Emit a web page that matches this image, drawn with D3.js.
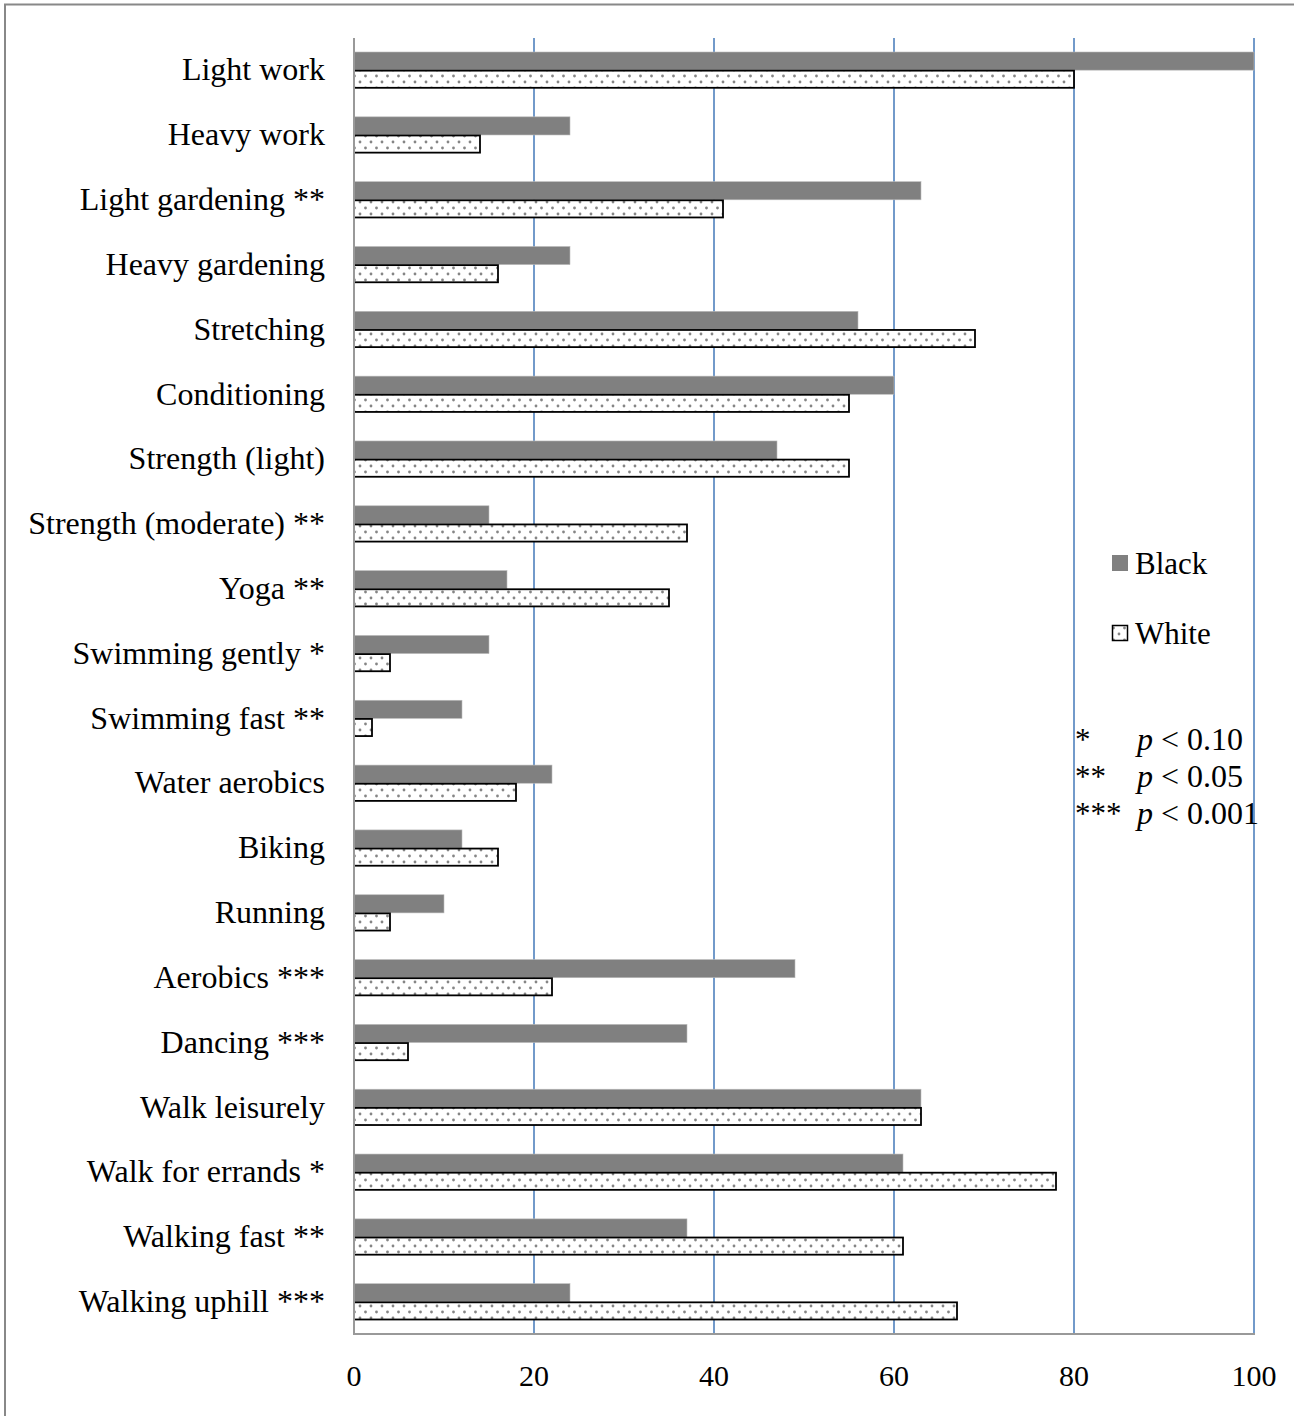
<!DOCTYPE html>
<html><head><meta charset="utf-8">
<script src="https://cdn.jsdelivr.net/npm/d3@7"></script>
<style>body{margin:0;background:#fff}svg{display:block}</style>
</head><body>
<script>
const categories = ["Light work","Heavy work","Light gardening **","Heavy gardening","Stretching","Conditioning","Strength (light)","Strength (moderate) **","Yoga **","Swimming gently *","Swimming fast **","Water aerobics","Biking","Running","Aerobics ***","Dancing ***","Walk leisurely","Walk for errands *","Walking fast **","Walking uphill ***"];
const black = [100,24,63,24,56,60,47,15,17,15,12,22,12,10,49,37,63,61,37,24];
const white = [80,14,41,16,69,55,55,37,35,4,2,18,16,4,22,6,63,78,61,67];
const xTicks = [0,20,40,60,80,100];
const seriesNames = ["Black","White"];
const sigMarks = ["*","**","***"];
const sigLabels = ["0.10","0.05","0.001"];

const W = 1294, H = 1416;
const svg = d3.select("body").append("svg").attr("width", W).attr("height", H);
const font = "'Liberation Serif','Times New Roman',serif";

const defs = svg.append("defs");
const pat = defs.append("pattern").attr("id","dots").attr("patternUnits","userSpaceOnUse")
  .attr("width",11).attr("height",12).attr("y",1);
pat.append("rect").attr("width",11).attr("height",12).attr("fill","#fff");
pat.append("circle").attr("cx",2.5).attr("cy",3).attr("r",1.4).attr("fill","#858585");
pat.append("circle").attr("cx",8).attr("cy",9).attr("r",1.4).attr("fill","#858585");

svg.append("rect").attr("x",5).attr("y",4.5).attr("width",W+20).attr("height",H+20)
  .attr("fill","none").attr("stroke","#888").attr("stroke-width",2);

const x = d3.scaleLinear().domain([0,100]).range([354,1254]);
const y = d3.scaleBand().domain(categories).range([38,1334]).paddingInner(0.44).paddingOuter(0.216);

// gridlines
svg.append("g").selectAll("line").data(xTicks.filter(d=>d>0)).join("line")
  .attr("x1",d=>x(d)).attr("x2",d=>x(d)).attr("y1",38).attr("y2",1334)
  .attr("stroke","#4f81bd").attr("stroke-width",1.6);

const bh = y.bandwidth()/2;
svg.append("g").selectAll("rect").data(categories).join("rect")
  .attr("x",x(0)).attr("y",d=>y(d)).attr("width",(d,i)=>x(black[i])-x(0)).attr("height",bh)
  .attr("fill","#808080").attr("stroke","#bbb").attr("stroke-width",0.6);
svg.append("g").selectAll("rect").data(categories).join("rect")
  .attr("x",x(0)).attr("y",d=>y(d)+bh+0.5).attr("width",(d,i)=>x(white[i])-x(0)).attr("height",bh-1)
  .attr("fill","url(#dots)").attr("stroke","#000").attr("stroke-width",1.8);

// axes lines
svg.append("line").attr("x1",354).attr("x2",354).attr("y1",38).attr("y2",1334).attr("stroke","#999").attr("stroke-width",2);
svg.append("line").attr("x1",353).attr("x2",1255).attr("y1",1334).attr("y2",1334).attr("stroke","#999").attr("stroke-width",2);

// category labels
svg.append("g").selectAll("text").data(categories).join("text")
  .attr("x",325).attr("y",d=>y(d)+y.bandwidth()/2).attr("dy","0.32em")
  .attr("text-anchor","end").attr("font-family",font).attr("font-size",32).text(d=>d);

// x tick labels
svg.append("g").selectAll("text").data(xTicks).join("text")
  .attr("x",d=>x(d)).attr("y",1386).attr("text-anchor","middle")
  .attr("font-family",font).attr("font-size",30).text(d=>d);

// legend
const leg = svg.append("g");
leg.append("rect").attr("x",1112).attr("y",555).attr("width",16).attr("height",16).attr("fill","#808080");
leg.append("rect").attr("x",1112.5).attr("y",625.5).attr("width",15).attr("height",15).attr("fill","url(#dots)").attr("stroke","#000").attr("stroke-width",1.5);
leg.selectAll("text.s").data(seriesNames).join("text").attr("class","s")
  .attr("x",1135).attr("y",(d,i)=>574+i*70).attr("font-family",font).attr("font-size",31).text(d=>d);

const sig = svg.append("g");
sig.selectAll("text.m").data(sigMarks).join("text").attr("class","m")
  .attr("x",1075).attr("y",(d,i)=>750+i*37).attr("font-family",font).attr("font-size",31).text(d=>d);
sig.selectAll("text.p").data(sigLabels).join("text").attr("class","p")
  .attr("x",1137).attr("y",(d,i)=>750+i*37).attr("font-family",font).attr("font-size",32)
  .each(function(d){
    const t = d3.select(this);
    t.append("tspan").attr("font-style","italic").text("p");
    t.append("tspan").text(" < " + d);
  });
</script>
</body></html>
